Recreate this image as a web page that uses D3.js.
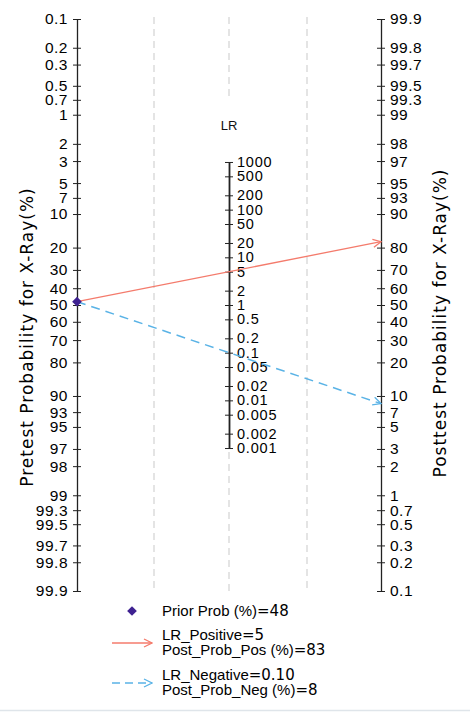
<!DOCTYPE html>
<html>
<head>
<meta charset="utf-8">
<script src="https://d3js.org/d3.v7.min.js"></script>
<style>
  body { margin: 0; background: #fff; }
  .tick text { font-family: "Liberation Sans", Arial, sans-serif; fill: #000; }
  .axis path { stroke: #222; }
  .axis line { stroke: #222; }
</style>
</head>
<body>
<script>
// data
var probTicks = [0.1, 0.2, 0.3, 0.5, 0.7, 1, 2, 3, 5, 7, 10, 20, 30, 40, 50, 60, 70, 80, 90, 93, 95, 97, 98, 99, 99.3, 99.5, 99.7, 99.8, 99.9];
var lrTicks = [1000, 500, 200, 100, 50, 20, 10, 5, 2, 1, 0.5, 0.2, 0.1, 0.05, 0.02, 0.01, 0.005, 0.002, 0.001];
var priorProb = 48;
var lrPositive = 5;
var lrNegative = 0.10;
var postProbPos = 83;
var postProbNeg = 8;

var W = 470, H = 712;
var xLeft = 77, xMid = 229, xRight = 381;
var yTop = 19, yBot = 591;

function logit(p) { return Math.log((p / 100) / (1 - p / 100)); }

var svg = d3.select("body").append("svg").attr("width", W).attr("height", H);

// left: pretest (0.1 top), right: posttest (99.9 top)
var yPre = d3.scaleLinear().domain([logit(0.1), logit(99.9)]).range([yTop, yBot]);
var yPost = d3.scaleLinear().domain([logit(0.1), logit(99.9)]).range([yBot, yTop]);
var yc = (yTop + yBot) / 2;
var half = (yBot - yTop) / 2 / 2;
var yLR = d3.scaleLog().domain([0.001, 1000]).range([yc + half * Math.log(1000) / logit(99.9), yc - half * Math.log(1000) / logit(99.9)]);

// grid lines
[[154, yTop - 2, yBot + 1], [307, yTop - 2, yBot + 1], [229, yTop - 2, 96], [229, 452, yBot + 1]].forEach(function(g) {
  svg.append("line").attr("x1", g[0]).attr("x2", g[0]).attr("y1", g[1]).attr("y2", g[2])
    .attr("stroke", "#dcdcdc").attr("stroke-width", 1.5).attr("stroke-dasharray", "7,5");
});

function fmt(v) { return String(v); }

function crossTicks(g) {
  g.selectAll(".tick line").attr("x1", -4).attr("x2", 4);
  g.select(".domain").attr("stroke-width", 1.3);
}

var gL = svg.append("g").attr("class", "axis").attr("transform", "translate(" + xLeft + ",0)")
  .call(d3.axisLeft(yPre).tickValues(probTicks.map(logit)).tickFormat(function(d, i) { return fmt(probTicks[i]); })
    .tickSizeOuter(0).tickPadding(3));
gL.call(crossTicks);
gL.selectAll(".tick text").attr("font-size", 15.5).attr("letter-spacing", "0.5px");

var gR = svg.append("g").attr("class", "axis").attr("transform", "translate(" + xRight + ",0)")
  .call(d3.axisRight(yPost).tickValues(probTicks.map(logit)).tickFormat(function(d, i) { return fmt(probTicks[i]); })
    .tickSizeOuter(0).tickPadding(3));
gR.call(crossTicks);
gR.selectAll(".tick text").attr("font-size", 15.5).attr("letter-spacing", "0.5px");

var gM = svg.append("g").attr("class", "axis").attr("transform", "translate(" + xMid + ",0)")
  .call(d3.axisRight(yLR).tickValues(lrTicks).tickFormat(function(d, i) { return fmt(lrTicks[i]); })
    .tickSizeOuter(0).tickPadding(2));
gM.call(crossTicks);
gM.select(".domain").attr("stroke-width", 1.8);
gM.selectAll(".tick text").attr("font-size", 14.5).attr("letter-spacing", "0.8px");

svg.append("text").attr("x", xMid).attr("y", 130).attr("text-anchor", "middle")
  .attr("font-family", "Liberation Sans, Arial, sans-serif").attr("font-size", 13).attr("fill", "#111").text("LR");

// axis titles
svg.append("text").attr("transform", "translate(33," + 337 + ") rotate(-90)").attr("text-anchor", "middle")
  .attr("font-family", "DejaVu Sans, sans-serif").attr("font-size", 17).attr("letter-spacing", "1px").attr("fill", "#000")
  .text("Pretest Probability for X-Ray(%)");
svg.append("text").attr("transform", "translate(446," + 323 + ") rotate(-90)").attr("text-anchor", "middle")
  .attr("font-family", "DejaVu Sans, sans-serif").attr("font-size", 17).attr("letter-spacing", "1px").attr("fill", "#000")
  .text("Posttest Probability for X-Ray(%)");

// arrow markers
var defs = svg.append("defs");
[["arrRed", "#f47b6c"], ["arrBlue", "#5ab3e6"]].forEach(function(m) {
  defs.append("marker").attr("id", m[0]).attr("viewBox", "0 0 10 10").attr("refX", 9).attr("refY", 5)
    .attr("markerWidth", 10).attr("markerHeight", 10).attr("markerUnits", "userSpaceOnUse").attr("orient", "auto")
    .append("path").attr("d", "M1,1 L9,5 L1,9").attr("fill", "none").attr("stroke", m[1]).attr("stroke-width", 1.3);
});

var y0 = yPre(logit(priorProb));
var yPos = yPost(logit(priorProb) + Math.log(lrPositive));
var yNeg = yPost(logit(priorProb) + Math.log(lrNegative));

svg.append("line").attr("x1", xLeft).attr("y1", y0).attr("x2", xRight).attr("y2", yPos)
  .attr("stroke", "#f47b6c").attr("stroke-width", 1.3).attr("marker-end", "url(#arrRed)");
svg.append("line").attr("x1", xLeft).attr("y1", y0).attr("x2", xRight).attr("y2", yNeg)
  .attr("stroke", "#5ab3e6").attr("stroke-width", 1.5).attr("stroke-dasharray", "9,6").attr("marker-end", "url(#arrBlue)");

var diamond = d3.symbol().type(d3.symbolDiamond2).size(60);
svg.append("path").attr("d", diamond()).attr("transform", "translate(" + xLeft + "," + y0 + ")").attr("fill", "#3e2191");

// legend
var lg = svg.append("g").attr("font-family", "Liberation Sans, Arial, sans-serif").attr("font-size", 15).attr("fill", "#000");
lg.append("path").attr("d", diamond()).attr("transform", "translate(132,611)").attr("fill", "#3e2191");

function legText(x, y, a, b) {
  var t = lg.append("text").attr("x", x).attr("y", y);
  t.append("tspan").text(a);
  t.append("tspan").attr("font-family", "DejaVu Sans, sans-serif").attr("font-size", 15).text(b);
}
legText(162, 616, "Prior Prob (%)", "=" + priorProb);
legText(162, 640, "LR_Positive", "=" + lrPositive);
legText(162, 655, "Post_Prob_Pos (%)", "=" + postProbPos);
legText(162, 680, "LR_Negative", "=" + lrNegative.toFixed(2));
legText(162, 695, "Post_Prob_Neg (%)", "=" + postProbNeg);

lg.append("line").attr("x1", 112).attr("x2", 152).attr("y1", 643).attr("y2", 643)
  .attr("stroke", "#f47b6c").attr("stroke-width", 1.3).attr("marker-end", "url(#arrRed)");
lg.append("line").attr("x1", 112).attr("x2", 152).attr("y1", 683).attr("y2", 683)
  .attr("stroke", "#5ab3e6").attr("stroke-width", 1.5).attr("stroke-dasharray", "8,5").attr("marker-end", "url(#arrBlue)");

svg.append("line").attr("x1", 0).attr("x2", W).attr("y1", 710.5).attr("y2", 710.5).attr("stroke", "#dfe5ea").attr("stroke-width", 1.5);
</script>
</body>
</html>
